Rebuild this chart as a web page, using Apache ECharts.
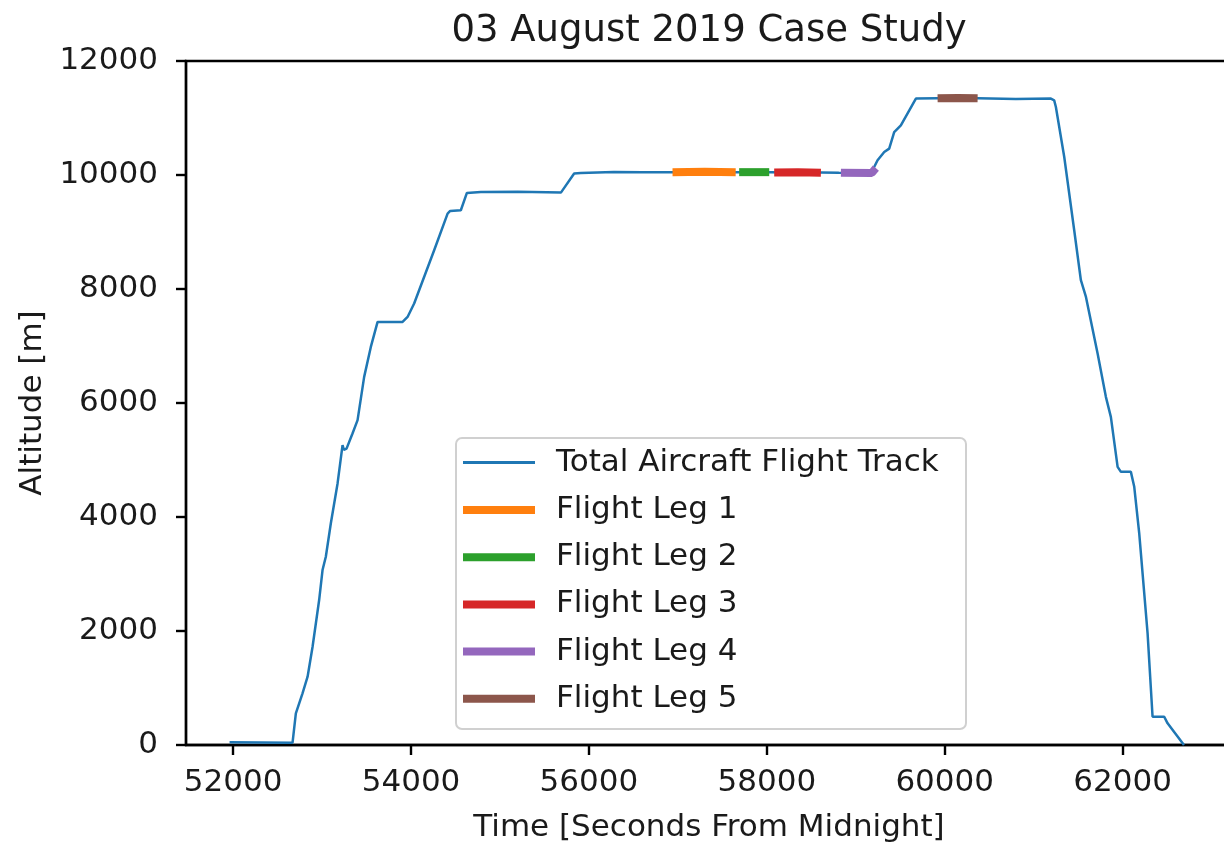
<!DOCTYPE html>
<html>
<head>
<meta charset="utf-8">
<script src="https://cdn.jsdelivr.net/npm/echarts@6/dist/echarts.min.js"></script>
<style>
html,body{margin:0;padding:0;background:#fff;overflow:hidden;}
#chart{width:1240px;height:856px;}
</style>
</head>
<body>
<div id="chart"></div>
<script>
// ---- data ----
const trackTime = [51960,52668,52705,52780,52837,52893,52967,53005,53042,53098,53174,53230,53245,53275,53342,53399,53473,53548,53624,53905,53961,54035,54260,54411,54440,54560,54628,54785,55200,55685,55834,55909,56280,56600,56940,57300,57650,58027,58300,58608,58810,59150,59207,59245,59320,59376,59432,59507,59676,59920,60370,60800,61194,61231,61250,61344,61456,61531,61588,61719,61812,61868,61944,61981,62093,62131,62187,62281,62337,62468,62506,62690];
const trackAlt  = [50,40,556,907,1198,1724,2543,3069,3302,3887,4589,5260,5180,5200,5466,5699,6458,6984,7423,7423,7510,7745,8680,9323,9369,9381,9685,9702,9705,9691,10025,10035,10053,10050,10050,10055,10050,10050,10045,10045,10040,10035,10140,10258,10403,10463,10754,10871,11340,11345,11345,11335,11340,11310,11193,10316,9030,8154,7861,6868,6108,5757,4880,4792,4792,4529,3712,1959,496,496,380,0];

const leg1Time = [56940,57300,57650];  const leg1Alt = [10050,10055,10050];
const leg2Time = [57689,58027];        const leg2Alt = [10050,10050];
const leg3Time = [58083,58350,58608];  const leg3Alt = [10045,10048,10040];
const leg4Time = [58833,59180,59226];  const leg4Alt = [10040,10035,10120];
const leg5Time = [59920,60150,60370];  const leg5Alt = [11345,11350,11345];

const seriesNames = ['Total Aircraft Flight Track','Flight Leg 1','Flight Leg 2','Flight Leg 3','Flight Leg 4','Flight Leg 5'];
const seriesColors = ['#1f77b4','#ff7f0e','#2ca02c','#d62728','#9467bd','#8c564b'];
const xTicks = [52000,54000,56000,58000,60000,62000];
const yTicks = [0,2000,4000,6000,8000,10000,12000];
const titleText = '03 August 2019 Case Study';
const xName = 'Time [Seconds From Midnight]';
const yName = 'Altitude [m]';

const zip = (a,b) => a.map((v,i)=>[v,b[i]]);
const legTimes = [leg1Time,leg2Time,leg3Time,leg4Time,leg5Time];
const legAlts = [leg1Alt,leg2Alt,leg3Alt,leg4Alt,leg5Alt];

const FONT = "'DejaVu Sans', 'Liberation Sans', sans-serif";
const TXT = '#1a1a1a';

const series = [{
  name: seriesNames[0], type:'line', data: zip(trackTime, trackAlt),
  symbol:'none', lineStyle:{color:seriesColors[0], width:2.5}, itemStyle:{color:seriesColors[0]},
  z:2, animation:false
}];
for (let i=0;i<5;i++){
  series.push({
    name: seriesNames[i+1], type:'line', data: zip(legTimes[i], legAlts[i]),
    symbol:'none', lineStyle:{color:seriesColors[i+1], width:8, cap:'butt'}, itemStyle:{color:seriesColors[i+1]},
    z:3, animation:false
  });
}

const chart = echarts.init(document.getElementById('chart'), null, {renderer:'canvas'});
chart.setOption({
  backgroundColor:'#fff',
  animation:false,
  title:{
    text:titleText, left:709, top:13, textAlign:'center', padding:0,
    textStyle:{fontFamily:FONT, fontSize:37, fontWeight:'normal', color:TXT, lineHeight:37}
  },
  grid:{left:186, top:61, right:8, bottom:111, containLabel:false, outerBoundsMode:'none',
        show:true, borderColor:'#000', borderWidth:2.4, backgroundColor:'transparent'},
  xAxis:{
    type:'value', min:51470, max:63230,
    axisLine:{show:true, onZero:false, lineStyle:{color:'#000', width:2.4}},
    axisTick:{show:true, customValues:xTicks, length:10, lineStyle:{color:'#000', width:2.4}},
    axisLabel:{customValues:xTicks, formatter:v=>String(v), fontFamily:FONT, fontSize:31, color:TXT, margin:22, showMinLabel:true, showMaxLabel:true},
    splitLine:{show:false},
    name:xName, nameLocation:'middle', nameGap:67,
    nameTextStyle:{fontFamily:FONT, fontSize:31, color:TXT}
  },
  yAxis:{
    type:'value', min:yTicks[0], max:yTicks[yTicks.length-1], interval:2000,
    axisLine:{show:true, onZero:false, lineStyle:{color:'#000', width:2.4}},
    axisTick:{show:true, length:10, lineStyle:{color:'#000', width:2.4}},
    axisLabel:{formatter:v=>String(v), fontFamily:FONT, fontSize:31, color:TXT, margin:28},
    splitLine:{show:false},
    name:yName, nameLocation:'middle', nameGap:136, nameRotate:90,
    nameTextStyle:{fontFamily:FONT, fontSize:31, color:TXT}
  },
  graphic:[{
    type:'rect', left:455, top:437, z:5, silent:true,
    shape:{width:510, height:291, r:6},
    style:{fill:'rgba(255,255,255,0.8)', stroke:'#d0d0d0', lineWidth:2}
  }],
  legend:[{
    data:[seriesNames[0]], orient:'vertical', left:463, top:447, padding:0,
    icon:'rect', itemWidth:72, itemHeight:3, itemGap:16, z:6,
    textStyle:{fontFamily:FONT, fontSize:31, color:TXT, lineHeight:31, padding:[0,0,0,16]},
    selectedMode:false
  },{
    data:seriesNames.slice(1), orient:'vertical', left:463, top:494.5, padding:0,
    icon:'rect', itemWidth:72, itemHeight:8, itemGap:16.2, z:6,
    textStyle:{fontFamily:FONT, fontSize:31, color:TXT, lineHeight:31, padding:[0,0,0,16]},
    selectedMode:false
  }],
  series:series
});
</script>
</body>
</html>
